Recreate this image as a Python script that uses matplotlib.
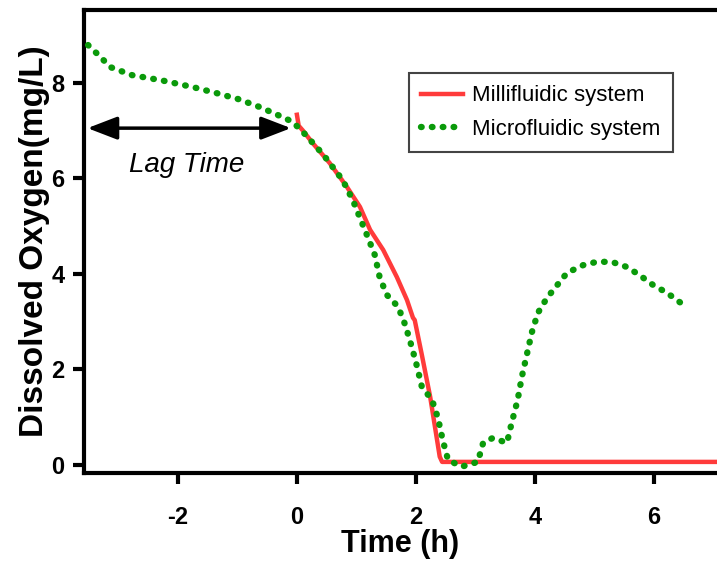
import matplotlib
matplotlib.use("Agg")
import matplotlib.pyplot as plt

plt.rcParams['font.family'] = ['Liberation Sans', 'DejaVu Sans']

# millifluidic system (red solid)
milli_t = [0, 0.03, 0.1, 0.27, 0.55, 0.84, 1.06, 1.23, 1.45, 1.68, 1.85, 1.95, 1.98,
           2.1, 2.24, 2.4, 2.44, 7.1]
milli_do = [7.33, 7.1, 7.0, 6.73, 6.32, 5.82, 5.4, 4.92, 4.5, 3.93, 3.45, 3.08, 3.03,
            2.3, 1.42, 0.17, 0.06, 0.06]

# microfluidic system (green dotted)
micro_t = [-3.51, -3.3, -3.14, -2.77, -2.27, -1.75, -1.34, -0.99, -0.62, -0.24, -0.07,
           0.13, 0.44, 0.77, 0.94, 1.19, 1.31, 1.39, 1.51, 1.70, 1.82, 1.93, 2.02, 2.10,
           2.27, 2.37, 2.45, 2.54, 2.77, 3.04, 3.13, 3.29, 3.53, 3.61, 3.71, 3.78, 3.87,
           3.95, 4.05, 4.20, 4.54, 4.81, 5.04, 5.29, 5.55, 5.76, 5.98, 6.22, 6.44]
micro_do = [8.79, 8.54, 8.33, 8.16, 8.05, 7.91, 7.78, 7.66, 7.49, 7.28, 7.18,
            6.93, 6.5, 5.96, 5.54, 4.77, 4.39, 3.93, 3.56, 3.31, 2.93, 2.47, 2.05, 1.63,
            1.36, 0.98, 0.52, 0.10, -0.04, 0.06, 0.46, 0.56, 0.46, 0.88, 1.36, 1.84, 2.34,
            2.78, 3.18, 3.49, 4.02, 4.18, 4.25, 4.25, 4.14, 3.97, 3.77, 3.6, 3.4]

xticks = [-2, 0, 2, 4, 6]
yticks = [0, 2, 4, 6, 8]

fig = plt.figure(figsize=(7.17, 5.67), dpi=100)
ax = fig.add_axes([0.117, 0.166, 0.883, 0.816])

ax.plot(milli_t, milli_do, color='#ff3b3b', lw=3.2, label='Millifluidic system', zorder=2)
ax.plot(micro_t, micro_do, color='#0a9a0a', lw=4.6, linestyle=(0, (0.1, 1.6)),
        dash_capstyle='round', label='Microfluidic system', zorder=3)

ax.annotate('', xy=(-3.52, 7.05), xytext=(-0.1, 7.05),
            arrowprops=dict(arrowstyle='<|-|>,head_length=1.3,head_width=0.5',
                            color='black', lw=2.5, mutation_scale=14,
                            shrinkA=0, shrinkB=0))
ax.text(-1.85, 6.28, 'Lag Time', style='italic', fontsize=20, ha='center', va='center')

ax.set_xlim(-3.58, 7.06)
ax.set_ylim(-0.17, 9.52)
ax.set_xticks(xticks)
ax.set_yticks(yticks)
ax.set_xticklabels([str(t) for t in xticks], fontweight='bold', fontsize=17)
ax.set_yticklabels([str(t) for t in yticks], fontweight='bold', fontsize=17)
ax.tick_params(direction='out', length=8, width=3)
ax.tick_params(axis='x', pad=16)
ax.tick_params(axis='y', pad=6)

for s in ['left', 'bottom', 'top']:
    ax.spines[s].set_linewidth(3)
ax.spines['right'].set_visible(False)

ax.set_xlabel('Time (h)', fontweight='bold', fontsize=22, labelpad=0)
ax.set_ylabel('Dissolved Oxygen(mg/L)', fontweight='bold', fontsize=24, labelpad=1)

leg = ax.legend(loc='upper left', bbox_to_anchor=(0.513, 0.864), borderaxespad=0,
                fontsize=16, fancybox=False, framealpha=1, edgecolor='#444444',
                handlelength=1.9, handletextpad=0.4, labelspacing=0.55,
                borderpad=0.55)
leg.get_frame().set_linewidth(1.5)

fig.savefig('out.png', dpi=100)
